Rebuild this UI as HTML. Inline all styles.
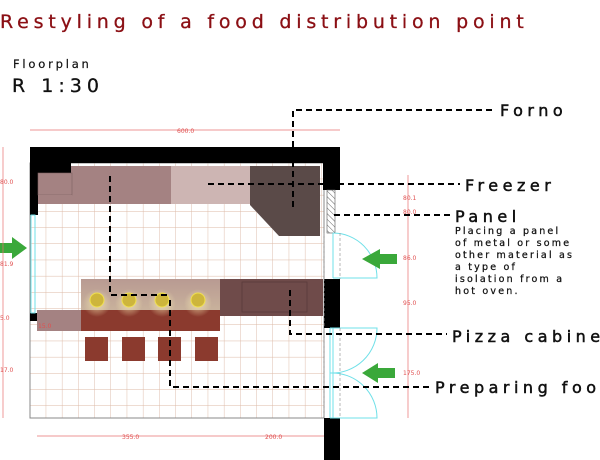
<!DOCTYPE html>
<html><head><style>
html,body{margin:0;padding:0;background:#fff;width:600px;height:460px;overflow:hidden}
svg{display:block}
text{font-family:"DejaVu Sans","Liberation Sans",sans-serif}
</style></head><body>
<svg width="600" height="460" viewBox="0 0 600 460" xmlns="http://www.w3.org/2000/svg">
<defs>
<pattern id="grid" x="30" y="163" width="16.2" height="16.2" patternUnits="userSpaceOnUse">
<path d="M16.2 0V16.2H0" fill="none" stroke="#dcb8a4" stroke-width="0.9"/>
</pattern>
<pattern id="hatch" width="4" height="4" patternUnits="userSpaceOnUse" patternTransform="rotate(-45)">
<line x1="0" y1="0" x2="0" y2="4" stroke="#666" stroke-width="1"/>
</pattern>
<radialGradient id="glow" cx="50%" cy="50%" r="50%">
<stop offset="0" stop-color="#f3e6b0" stop-opacity="0.8"/><stop offset="1" stop-color="#f3e6b0" stop-opacity="0"/>
</radialGradient>
<linearGradient id="isl" x1="0" y1="0" x2="0" y2="1">
<stop offset="0" stop-color="#b89a92"/><stop offset="1" stop-color="#c9b29c"/>
</linearGradient>
</defs>
<!-- title -->
<text x="0" y="28" font-size="19" fill="#8b0f14" letter-spacing="4.8" stroke="#8b0f14" stroke-width="0.3">Restyling of a food distribution point</text>
<text x="13" y="68" font-size="11.5" fill="#111" letter-spacing="2.8" stroke="#111" stroke-width="0.2">Floorplan</text>
<text x="12" y="92" font-size="19" fill="#111" letter-spacing="5" stroke="#111" stroke-width="0.3">R 1:30</text>

<!-- floor -->
<rect x="30" y="163" width="294" height="255" fill="#fff"/>
<rect x="30" y="163" width="294" height="255" fill="url(#grid)"/>
<rect x="30" y="163" width="294" height="255" fill="none" stroke="#888" stroke-width="1"/>

<!-- walls -->
<rect x="30" y="147" width="310" height="16" fill="#000"/>
<rect x="30" y="147" width="41" height="26" fill="#000"/>
<rect x="30" y="147" width="8" height="68" fill="#000"/>
<rect x="323" y="147" width="17" height="43" fill="#000"/>
<rect x="327" y="190" width="8" height="43" fill="url(#hatch)" stroke="#555" stroke-width="0.6"/>
<rect x="324" y="279" width="16" height="49" fill="#000"/>
<rect x="324" y="418" width="16" height="42" fill="#000"/>
<rect x="30" y="313" width="7" height="8" fill="#000"/>

<!-- top counters -->
<rect x="71" y="166" width="100" height="38" fill="#a48282"/>
<rect x="38" y="173" width="34" height="22" fill="#a48282" stroke="#7c5f5f" stroke-width="0.6"/>
<rect x="38" y="195" width="34" height="9" fill="#a48282"/>
<rect x="171" y="166" width="80" height="38" fill="#cdb5b3"/>
<polygon points="250,166 320,166 320,236 279,236 250,205" fill="#5a4a48"/>

<!-- island -->
<rect x="81" y="279" width="139" height="32" fill="url(#isl)"/>
<rect x="81" y="310" width="139" height="21" fill="#8b3a2e"/>
<rect x="37" y="310" width="44" height="21" fill="#a48282"/>
<rect x="220" y="279" width="103" height="37" fill="#6f4b4a"/>
<rect x="242" y="282" width="65" height="30" fill="none" stroke="#5a3a3a" stroke-width="0.8"/>
<g fill="url(#glow)">
<circle cx="97" cy="303" r="14"/><circle cx="129" cy="303" r="14"/><circle cx="162" cy="303" r="14"/><circle cx="198" cy="303" r="14"/>
</g>
<g fill="#cdb53c" stroke="#f0e050" stroke-width="1">
<circle cx="97" cy="300" r="7"/><circle cx="129" cy="300" r="7"/><circle cx="162" cy="300" r="7"/><circle cx="198" cy="300" r="7"/>
</g>
<g fill="#8b3a2e">
<rect x="85" y="337" width="23" height="24"/><rect x="122" y="337" width="23" height="24"/><rect x="158" y="337" width="23" height="24"/><rect x="195" y="337" width="23" height="24"/>
</g>

<!-- doors -->
<g fill="none" stroke="#6fe0e8" stroke-width="1">
<rect x="31" y="215" width="4" height="98"/>
<line x1="333" y1="233" x2="333" y2="278"/>
<path d="M333 233 A44 45 0 0 1 377 278 L333 278"/>
<line x1="330" y1="328" x2="330" y2="418"/>
<line x1="333" y1="328" x2="333" y2="418"/>
<path d="M330 373 A45 45 0 0 0 377 328 L330 328"/>
<path d="M330 373 A45 45 0 0 1 377 418 L330 418"/>
</g>
<g stroke="#999" stroke-width="0.7" stroke-dasharray="3,2">
<line x1="324" y1="233" x2="324" y2="418"/><line x1="340" y1="233" x2="340" y2="279"/><line x1="340" y1="328" x2="340" y2="418"/>
</g>

<!-- arrows -->
<g fill="#3aa83a">
<polygon points="0,243 12,243 12,237 27,248 12,259 12,253 0,253"/>
<polygon points="397,254 380,254 380,249 362,259 380,269 380,264 397,264"/>
<polygon points="395,368 378,368 378,363 362,373 378,383 378,378 395,378"/>
</g>

<!-- dimensions -->
<g stroke="#e87070" stroke-width="0.7" fill="none">
<line x1="30" y1="130" x2="340" y2="130"/>
<line x1="3" y1="147" x2="3" y2="418"/>
<line x1="408" y1="175" x2="408" y2="418"/>
<line x1="37" y1="436" x2="324" y2="436"/>
</g>
<g fill="#e05050" font-size="6">
<text x="177" y="133">600.0</text>
<text x="0" y="184">80.0</text>
<text x="0" y="266">81.9</text>
<text x="0" y="320">5.0</text>
<text x="0" y="372">17.0</text>
<text x="38" y="328">15.0</text>
<text x="403" y="200">80.1</text>
<text x="403" y="214">80.0</text>
<text x="403" y="260">86.0</text>
<text x="403" y="305">95.0</text>
<text x="403" y="375">175.0</text>
<text x="122" y="439">355.0</text>
<text x="265" y="439">200.0</text>
</g>

<!-- leader lines -->
<g stroke="#000" stroke-width="2" fill="none" stroke-dasharray="6,4">
<path d="M293 207 V110 H495"/>
<path d="M208 184 H460"/>
<path d="M334 215 H450"/>
<path d="M290 290 V334 H447"/>
<path d="M170 300 V387 H430"/>
<path d="M110 176 V295 H170"/>
</g>

<!-- labels -->
<g fill="#111" font-size="16" letter-spacing="4.5" stroke="#111" stroke-width="0.5">
<text x="500" y="116">Forno</text>
<text x="465" y="191">Freezer</text>
<text x="455" y="222">Panel</text>
<text x="452" y="342">Pizza cabinet</text>
<text x="435" y="393">Preparing food</text>
</g>
<g fill="#111" font-size="9.5" letter-spacing="2.2" stroke="#111" stroke-width="0.25">
<text x="455" y="234">Placing a panel</text>
<text x="455" y="246">of metal or some</text>
<text x="455" y="258">other material as</text>
<text x="455" y="270">a type of</text>
<text x="455" y="282">isolation from a</text>
<text x="455" y="294">hot oven.</text>
</g>
</svg>
</body></html>
